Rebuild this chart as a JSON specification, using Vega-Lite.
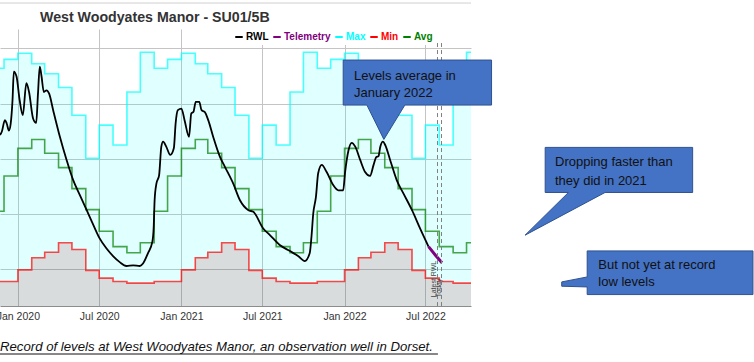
{
  "$schema": "https://vega.github.io/schema/vega-lite/v6.json",
  "width": 471,
  "height": 277,
  "autosize": "none",
  "padding": {"left": 0, "top": 29, "right": 283, "bottom": 56},
  "background": "white",
  "config": {"view": {"stroke": null}, "font": "Liberation Sans"},
  "title": {"text": "West Woodyates Manor - SU01/5B", "anchor": "start", "frame": "group", "dx": 40, "dy": 42, "offset": 5, "baseline": "bottom", "fontSize": 14.2, "font": "Liberation Sans", "fontWeight": "bold", "color": "#333333"},
  "datasets": {
    "monthly": [
      {"date": "2019-11-01", "Max": 106.4, "Min": 67.8, "Avg": 80.5},
      {"date": "2019-12-01", "Max": 108.0, "Min": 67.8, "Avg": 86.9},
      {"date": "2020-01-01", "Max": 109.1, "Min": 69.9, "Avg": 91.9},
      {"date": "2020-02-01", "Max": 107.2, "Min": 72.1, "Avg": 93.5},
      {"date": "2020-03-01", "Max": 105.4, "Min": 73.1, "Avg": 91.0},
      {"date": "2020-04-01", "Max": 102.9, "Min": 74.8, "Avg": 88.4},
      {"date": "2020-05-01", "Max": 97.9, "Min": 73.6, "Avg": 84.6},
      {"date": "2020-06-01", "Max": 90.1, "Min": 69.8, "Avg": 80.8},
      {"date": "2020-07-01", "Max": 96.1, "Min": 68.4, "Avg": 76.9},
      {"date": "2020-08-01", "Max": 92.5, "Min": 67.8, "Avg": 74.1},
      {"date": "2020-09-01", "Max": 102.1, "Min": 67.5, "Avg": 73.0},
      {"date": "2020-10-01", "Max": 109.3, "Min": 67.5, "Avg": 74.8},
      {"date": "2020-11-01", "Max": 106.4, "Min": 67.8, "Avg": 80.5},
      {"date": "2020-12-01", "Max": 108.0, "Min": 67.8, "Avg": 86.9},
      {"date": "2021-01-01", "Max": 109.1, "Min": 69.9, "Avg": 91.9},
      {"date": "2021-02-01", "Max": 107.2, "Min": 72.1, "Avg": 93.5},
      {"date": "2021-03-01", "Max": 105.4, "Min": 73.1, "Avg": 91.0},
      {"date": "2021-04-01", "Max": 102.9, "Min": 74.8, "Avg": 88.4},
      {"date": "2021-05-01", "Max": 97.9, "Min": 73.6, "Avg": 84.6},
      {"date": "2021-06-01", "Max": 90.1, "Min": 69.8, "Avg": 80.8},
      {"date": "2021-07-01", "Max": 96.1, "Min": 68.4, "Avg": 76.9},
      {"date": "2021-08-01", "Max": 92.5, "Min": 67.8, "Avg": 74.1},
      {"date": "2021-09-01", "Max": 102.1, "Min": 67.5, "Avg": 73.0},
      {"date": "2021-10-01", "Max": 109.3, "Min": 67.5, "Avg": 74.8},
      {"date": "2021-11-01", "Max": 106.4, "Min": 67.8, "Avg": 80.5},
      {"date": "2021-12-01", "Max": 108.0, "Min": 67.8, "Avg": 86.9},
      {"date": "2022-01-01", "Max": 109.1, "Min": 69.9, "Avg": 91.9},
      {"date": "2022-02-01", "Max": 107.2, "Min": 72.1, "Avg": 93.5},
      {"date": "2022-03-01", "Max": 105.4, "Min": 73.1, "Avg": 91.0},
      {"date": "2022-04-01", "Max": 102.9, "Min": 74.8, "Avg": 88.4},
      {"date": "2022-05-01", "Max": 97.9, "Min": 73.6, "Avg": 84.6},
      {"date": "2022-06-01", "Max": 90.1, "Min": 69.8, "Avg": 80.8},
      {"date": "2022-07-01", "Max": 96.1, "Min": 68.4, "Avg": 76.9},
      {"date": "2022-08-01", "Max": 92.5, "Min": 67.8, "Avg": 74.1},
      {"date": "2022-09-01", "Max": 102.1, "Min": 67.5, "Avg": 73.0},
      {"date": "2022-10-01", "Max": 109.3, "Min": 67.5, "Avg": 74.8},
      {"date": "2022-11-01", "Max": 106.4, "Min": 67.8, "Avg": 80.5}
    ],
    "rwl": [
      {"date": "2019-11-22", "level": 94.3, "series": "RWL"},
      {"date": "2019-11-26", "level": 94.9, "series": "RWL"},
      {"date": "2019-12-03", "level": 97.0, "series": "RWL"},
      {"date": "2019-12-07", "level": 96.4, "series": "RWL"},
      {"date": "2019-12-12", "level": 95.1, "series": "RWL"},
      {"date": "2019-12-16", "level": 96.4, "series": "RWL"},
      {"date": "2019-12-20", "level": 100.6, "series": "RWL"},
      {"date": "2019-12-23", "level": 105.8, "series": "RWL"},
      {"date": "2019-12-29", "level": 104.9, "series": "RWL"},
      {"date": "2020-01-05", "level": 100.6, "series": "RWL"},
      {"date": "2020-01-12", "level": 97.9, "series": "RWL"},
      {"date": "2020-01-20", "level": 103.7, "series": "RWL"},
      {"date": "2020-01-26", "level": 102.1, "series": "RWL"},
      {"date": "2020-02-04", "level": 97.3, "series": "RWL"},
      {"date": "2020-02-11", "level": 96.5, "series": "RWL"},
      {"date": "2020-02-15", "level": 101.8, "series": "RWL"},
      {"date": "2020-02-19", "level": 106.7, "series": "RWL"},
      {"date": "2020-02-23", "level": 104.9, "series": "RWL"},
      {"date": "2020-02-28", "level": 102.1, "series": "RWL"},
      {"date": "2020-03-05", "level": 102.4, "series": "RWL"},
      {"date": "2020-03-11", "level": 101.8, "series": "RWL"},
      {"date": "2020-03-20", "level": 98.8, "series": "RWL"},
      {"date": "2020-04-04", "level": 94.0, "series": "RWL"},
      {"date": "2020-04-19", "level": 89.8, "series": "RWL"},
      {"date": "2020-05-04", "level": 86.1, "series": "RWL"},
      {"date": "2020-05-19", "level": 83.4, "series": "RWL"},
      {"date": "2020-06-03", "level": 80.7, "series": "RWL"},
      {"date": "2020-06-18", "level": 78.0, "series": "RWL"},
      {"date": "2020-07-02", "level": 75.6, "series": "RWL"},
      {"date": "2020-07-17", "level": 73.8, "series": "RWL"},
      {"date": "2020-08-01", "level": 72.4, "series": "RWL"},
      {"date": "2020-08-16", "level": 71.3, "series": "RWL"},
      {"date": "2020-08-31", "level": 70.6, "series": "RWL"},
      {"date": "2020-09-15", "level": 70.7, "series": "RWL"},
      {"date": "2020-09-30", "level": 70.6, "series": "RWL"},
      {"date": "2020-10-07", "level": 71.05, "series": "RWL"},
      {"date": "2020-10-18", "level": 72.9, "series": "RWL"},
      {"date": "2020-10-28", "level": 75.0, "series": "RWL"},
      {"date": "2020-10-31", "level": 77.7, "series": "RWL"},
      {"date": "2020-11-02", "level": 82.5, "series": "RWL"},
      {"date": "2020-11-06", "level": 85.5, "series": "RWL"},
      {"date": "2020-11-12", "level": 87.0, "series": "RWL"},
      {"date": "2020-11-17", "level": 92.2, "series": "RWL"},
      {"date": "2020-11-21", "level": 93.1, "series": "RWL"},
      {"date": "2020-11-28", "level": 92.2, "series": "RWL"},
      {"date": "2020-12-07", "level": 90.7, "series": "RWL"},
      {"date": "2020-12-15", "level": 91.9, "series": "RWL"},
      {"date": "2020-12-19", "level": 96.4, "series": "RWL"},
      {"date": "2020-12-24", "level": 98.8, "series": "RWL"},
      {"date": "2021-01-01", "level": 99.1, "series": "RWL"},
      {"date": "2021-01-08", "level": 97.0, "series": "RWL"},
      {"date": "2021-01-18", "level": 94.0, "series": "RWL"},
      {"date": "2021-01-23", "level": 98.2, "series": "RWL"},
      {"date": "2021-01-28", "level": 98.5, "series": "RWL"},
      {"date": "2021-02-02", "level": 100.3, "series": "RWL"},
      {"date": "2021-02-10", "level": 100.3, "series": "RWL"},
      {"date": "2021-02-15", "level": 98.8, "series": "RWL"},
      {"date": "2021-02-22", "level": 98.5, "series": "RWL"},
      {"date": "2021-03-02", "level": 97.0, "series": "RWL"},
      {"date": "2021-03-13", "level": 94.0, "series": "RWL"},
      {"date": "2021-03-28", "level": 90.4, "series": "RWL"},
      {"date": "2021-04-08", "level": 88.6, "series": "RWL"},
      {"date": "2021-04-27", "level": 85.5, "series": "RWL"},
      {"date": "2021-05-12", "level": 82.5, "series": "RWL"},
      {"date": "2021-05-31", "level": 80.7, "series": "RWL"},
      {"date": "2021-06-11", "level": 80.4, "series": "RWL"},
      {"date": "2021-07-03", "level": 77.4, "series": "RWL"},
      {"date": "2021-07-18", "level": 76.2, "series": "RWL"},
      {"date": "2021-08-09", "level": 74.4, "series": "RWL"},
      {"date": "2021-09-01", "level": 73.3, "series": "RWL"},
      {"date": "2021-09-19", "level": 72.4, "series": "RWL"},
      {"date": "2021-10-04", "level": 71.5, "series": "RWL"},
      {"date": "2021-10-15", "level": 72.9, "series": "RWL"},
      {"date": "2021-10-19", "level": 75.9, "series": "RWL"},
      {"date": "2021-10-23", "level": 80.1, "series": "RWL"},
      {"date": "2021-10-29", "level": 83.1, "series": "RWL"},
      {"date": "2021-11-03", "level": 87.4, "series": "RWL"},
      {"date": "2021-11-11", "level": 88.9, "series": "RWL"},
      {"date": "2021-11-22", "level": 87.6, "series": "RWL"},
      {"date": "2021-12-07", "level": 85.2, "series": "RWL"},
      {"date": "2021-12-18", "level": 84.3, "series": "RWL"},
      {"date": "2021-12-29", "level": 84.3, "series": "RWL"},
      {"date": "2022-01-02", "level": 87.4, "series": "RWL"},
      {"date": "2022-01-10", "level": 91.6, "series": "RWL"},
      {"date": "2022-01-17", "level": 92.9, "series": "RWL"},
      {"date": "2022-01-25", "level": 92.2, "series": "RWL"},
      {"date": "2022-02-05", "level": 89.8, "series": "RWL"},
      {"date": "2022-02-16", "level": 87.6, "series": "RWL"},
      {"date": "2022-02-27", "level": 86.9, "series": "RWL"},
      {"date": "2022-03-07", "level": 88.9, "series": "RWL"},
      {"date": "2022-03-13", "level": 90.3, "series": "RWL"},
      {"date": "2022-03-18", "level": 90.5, "series": "RWL"},
      {"date": "2022-03-22", "level": 92.2, "series": "RWL"},
      {"date": "2022-03-28", "level": 93.1, "series": "RWL"},
      {"date": "2022-04-02", "level": 92.5, "series": "RWL"},
      {"date": "2022-04-13", "level": 89.8, "series": "RWL"},
      {"date": "2022-04-28", "level": 86.1, "series": "RWL"},
      {"date": "2022-05-13", "level": 83.7, "series": "RWL"},
      {"date": "2022-06-01", "level": 80.7, "series": "RWL"},
      {"date": "2022-06-19", "level": 77.4, "series": "RWL"},
      {"date": "2022-07-08", "level": 74.1, "series": "RWL"},
      {"date": "2022-07-08", "level": 74.1, "series": "Telemetry"},
      {"date": "2022-07-23", "level": 72.6, "series": "Telemetry"},
      {"date": "2022-08-07", "level": 71.2, "series": "Telemetry"}
    ],
    "events": [
      {"date": "2022-07-28", "label": "Latest RWL"},
      {"date": "2022-08-06", "label": "Today"}
    ],
    "callouts": [
      {"id": 1, "ord": 0, "date": "2021-12-29", "v": 107.88},
      {"id": 1, "ord": 1, "date": "2022-11-26", "v": 107.88},
      {"id": 1, "ord": 2, "date": "2022-11-26", "v": 99.73},
      {"id": 1, "ord": 3, "date": "2022-05-16", "v": 99.73},
      {"id": 1, "ord": 4, "date": "2022-03-30", "v": 93.51},
      {"id": 1, "ord": 5, "date": "2022-02-20", "v": 99.73},
      {"id": 1, "ord": 6, "date": "2021-12-29", "v": 99.73},
      {"id": 1, "ord": 7, "date": "2021-12-29", "v": 107.88},
      {"id": 2, "ord": 0, "date": "2023-03-26", "v": 92.07},
      {"id": 2, "ord": 1, "date": "2024-02-19", "v": 92.07},
      {"id": 2, "ord": 2, "date": "2024-02-19", "v": 83.91},
      {"id": 2, "ord": 3, "date": "2023-08-07", "v": 83.91},
      {"id": 2, "ord": 4, "date": "2023-02-09", "v": 76.18},
      {"id": 2, "ord": 5, "date": "2023-05-17", "v": 83.91},
      {"id": 2, "ord": 6, "date": "2023-03-26", "v": 83.91},
      {"id": 2, "ord": 7, "date": "2023-03-26", "v": 92.07},
      {"id": 3, "ord": 0, "date": "2023-06-28", "v": 73.33},
      {"id": 3, "ord": 1, "date": "2024-07-03", "v": 73.33},
      {"id": 3, "ord": 2, "date": "2024-07-03", "v": 65.43},
      {"id": 3, "ord": 3, "date": "2023-06-28", "v": 65.43},
      {"id": 3, "ord": 4, "date": "2023-06-28", "v": 66.81},
      {"id": 3, "ord": 5, "date": "2023-05-02", "v": 66.94},
      {"id": 3, "ord": 6, "date": "2023-05-02", "v": 67.72},
      {"id": 3, "ord": 7, "date": "2023-06-28", "v": 68.62},
      {"id": 3, "ord": 8, "date": "2023-06-28", "v": 73.33}
    ],
    "ctext": [
      {"date": "2022-01-22", "v": 104.98, "t": "Levels average  in"},
      {"date": "2022-01-22", "v": 101.85, "t": "January 2022"},
      {"date": "2023-04-17", "v": 89.35, "t": "Dropping faster than"},
      {"date": "2023-04-17", "v": 86.01, "t": "they did in 2021"},
      {"date": "2023-07-23", "v": 70.87, "t": "But not yet at record"},
      {"date": "2023-07-23", "v": 67.72, "t": "low levels"}
    ],
    "caption": [
      {"date": "2019-11-22", "end": "2022-07-29", "v": 56.0, "u": 54.67, "t": "Record of levels at West Woodyates Manor, an observation well in Dorset."}
    ],
    "frame": [
      {"date": "2019-11-22", "end": "2022-10-11", "v": 118.2}
    ]
  },
  "encoding": {
    "x": {
      "field": "date", "type": "temporal",
      "scale": {"type": "utc", "domain": [{"year": 2019, "month": "nov", "date": 22, "utc": true}, {"year": 2022, "month": "oct", "date": 11, "utc": true}]},
      "axis": {
        "title": null, "format": "%b %Y",
        "values": [
          {"year": 2020, "month": "jan", "date": 1, "utc": true},
          {"year": 2020, "month": "jul", "date": 1, "utc": true},
          {"year": 2021, "month": "jan", "date": 1, "utc": true},
          {"year": 2021, "month": "jul", "date": 1, "utc": true},
          {"year": 2022, "month": "jan", "date": 1, "utc": true},
          {"year": 2022, "month": "jul", "date": 1, "utc": true}
        ],
        "ticks": false, "labelFlush": false, "labelOverlap": false, "labelBound": false,
        "domainColor": "#8c8c8c", "gridColor": "#c4c4c4",
        "labelFont": "Liberation Sans", "labelFontSize": 10.5, "labelColor": "#333333", "labelPadding": 5
      }
    }
  },
  "layer": [
    {
      "data": {"name": "monthly"},
      "mark": {"type": "area", "interpolate": "step-after", "fill": "#00ffff", "fillOpacity": 0.12, "clip": true},
      "encoding": {
        "y": {
          "field": "Max", "type": "quantitative",
          "scale": {"domain": [63.36, 113.5], "zero": false, "nice": false},
          "axis": {"title": null, "labels": false, "ticks": false, "domain": false, "values": [70, 80, 90, 100, 110], "gridColor": "#c4c4c4"}
        },
        "y2": {"field": "Min"}
      }
    },
    {
      "data": {"name": "monthly"},
      "mark": {"type": "area", "interpolate": "step-after", "fill": "#405050", "fillOpacity": 0.2, "clip": true},
      "encoding": {
        "y": {"field": "Min", "type": "quantitative", "title": null},
        "y2": {"datum": 63.36}
      }
    },
    {
      "data": {"name": "monthly"},
      "transform": [{"fold": ["Max", "Min", "Avg"], "as": ["series", "val"]}],
      "mark": {"type": "line", "interpolate": "step-after", "strokeWidth": 1.6, "opacity": 0.7, "clip": true},
      "encoding": {
        "y": {"field": "val", "type": "quantitative", "title": null},
        "color": {
          "field": "series", "type": "nominal",
          "scale": {"domain": ["RWL", "Telemetry", "Max", "Min", "Avg"], "range": ["#000000", "#800080", "#00ffff", "#ff0000", "#008000"]},
          "legend": {
            "title": null, "orient": "none", "legendX": 231, "legendY": 0, "direction": "horizontal",
            "symbolType": "stroke", "symbolStrokeWidth": 2, "symbolSize": 56, "symbolOpacity": 1,
            "labelFont": "Liberation Sans", "labelFontSize": 10, "labelFontWeight": "bold",
            "labelOffset": 2, "columnPadding": 0, "padding": 3, "fillColor": "white",
            "encode": {"labels": {"update": {"fill": {"scale": "color", "field": "value"}}}}
          }
        }
      }
    },
    {
      "data": {"name": "rwl"},
      "transform": [{"filter": "datum.series === 'RWL'"}],
      "mark": {"type": "line", "interpolate": "monotone", "strokeWidth": 1.8, "clip": true},
      "encoding": {
        "y": {"field": "level", "type": "quantitative", "title": null},
        "color": {"field": "series", "type": "nominal"}
      }
    },
    {
      "data": {"name": "rwl"},
      "transform": [{"filter": "datum.series === 'Telemetry'"}],
      "mark": {"type": "line", "strokeWidth": 3, "clip": true},
      "encoding": {
        "y": {"field": "level", "type": "quantitative", "title": null},
        "color": {"field": "series", "type": "nominal"}
      }
    },
    {
      "data": {"name": "events"},
      "mark": {"type": "rule", "color": "#808080", "strokeWidth": 1, "strokeDash": [4, 3]},
      "encoding": {
        "y": {"datum": 110.96},
        "y2": {"datum": 63.36}
      }
    },
    {
      "data": {"name": "events"},
      "mark": {"type": "text", "angle": 270, "align": "left", "baseline": "bottom", "fontSize": 7, "color": "#444444", "font": "Liberation Sans"},
      "encoding": {
        "y": {"datum": 64.95},
        "text": {"field": "label"}
      }
    },
    {
      "data": {"name": "callouts"},
      "mark": {"type": "line", "fill": "#4472C4", "stroke": "#2F528F", "strokeWidth": 1, "clip": false},
      "encoding": {
        "y": {"field": "v", "type": "quantitative", "title": null},
        "detail": {"field": "id", "type": "nominal"},
        "order": {"field": "ord", "type": "quantitative"}
      }
    },
    {
      "data": {"name": "ctext"},
      "mark": {"type": "text", "align": "left", "baseline": "middle", "fontSize": 13, "color": "#111111", "font": "Liberation Sans"},
      "encoding": {
        "y": {"field": "v", "type": "quantitative", "title": null},
        "text": {"field": "t"}
      }
    },
    {
      "data": {"name": "caption"},
      "mark": {"type": "text", "align": "left", "baseline": "middle", "fontSize": 13.2, "fontStyle": "italic", "color": "#111111", "font": "Liberation Sans"},
      "encoding": {
        "y": {"field": "v", "type": "quantitative", "title": null},
        "text": {"field": "t"}
      }
    },
    {
      "data": {"name": "caption"},
      "mark": {"type": "rule", "color": "#111111", "strokeWidth": 1},
      "encoding": {
        "x2": {"field": "end"},
        "y": {"field": "u", "type": "quantitative", "title": null}
      }
    },
    {
      "data": {"name": "frame"},
      "mark": {"type": "rule", "color": "#d0d0d0", "strokeWidth": 1},
      "encoding": {
        "x2": {"field": "end"},
        "y": {"field": "v", "type": "quantitative", "title": null}
      }
    }
  ]
}
